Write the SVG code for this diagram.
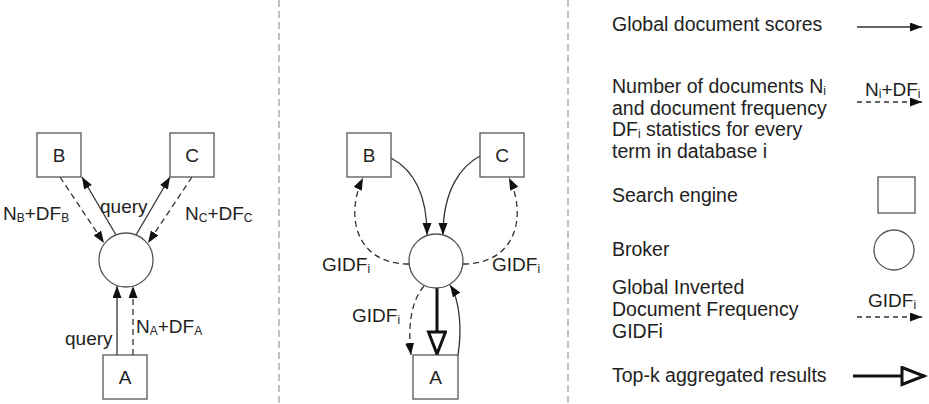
<svg xmlns="http://www.w3.org/2000/svg" width="929" height="404" viewBox="0 0 929 404">
<defs>
<marker id="ah" markerUnits="userSpaceOnUse" markerWidth="14" markerHeight="10" refX="12" refY="4.5" orient="auto">
<path d="M0,0 L12,4.5 L0,9 z" fill="#111"/>
</marker>
<marker id="hollow" markerUnits="userSpaceOnUse" markerWidth="28" markerHeight="22" refX="25" refY="10" orient="auto">
<path d="M2,1.5 L24,10 L2,18.5 z" fill="#fff" stroke="#111" stroke-width="3" stroke-linejoin="miter"/>
</marker>
<style>
.t{font-family:"Liberation Sans",Arial,sans-serif;font-size:19px;fill:#222}
.lg{font-family:"Liberation Sans",Arial,sans-serif;font-size:19.5px;fill:#222}
.s{font-size:12px}
.box{fill:#fff;stroke:#555;stroke-width:1.3}
.brk{fill:#fff;stroke:#555;stroke-width:1.3}
.sol{fill:none;stroke:#333;stroke-width:1.3;marker-end:url(#ah)}
.dsh{fill:none;stroke:#333;stroke-width:1.3;stroke-dasharray:6 4;marker-end:url(#ah)}
.thk{fill:none;stroke:#111;stroke-width:3;marker-end:url(#hollow)}
.div{stroke:#999;stroke-width:1.2;stroke-dasharray:7 4}
</style>
</defs>
<rect width="929" height="404" fill="#fff"/>
<g id="dividers">
<line class="div" x1="279" y1="0" x2="279" y2="404"/>
<line class="div" x1="568" y1="0" x2="568" y2="404"/>
</g>
<g id="connectors">
<path class="dsh" d="M60,177 L104,243"/>
<path class="sol" d="M116,235 L82,177"/>
<path class="sol" d="M136,235 L170,177"/>
<path class="dsh" d="M192,177 L148,243"/>
<path class="sol" d="M117,355 L117,286"/>
<path class="dsh" d="M133,355 L133,286"/>
<path class="sol" d="M391,158 C410,168 427,190 427,235"/>
<path class="sol" d="M480,156 C461,166 443,190 443,235"/>
<path class="dsh" d="M409,264 C355,264 345,215 363,178"/>
<path class="dsh" d="M463,264 C517,264 527,215 509,178"/>
<path class="dsh" d="M424,286 C410,302 408,330 411,355"/>
<path class="thk" d="M437,288 L437,355"/>
<path class="sol" d="M458,355 C462,330 460,300 450,285"/>
</g>
<g id="left-B"><rect class="box" x="37" y="133" width="44" height="44"/><text class="t" x="59" y="162" text-anchor="middle">B</text></g>
<g id="left-C"><rect class="box" x="170" y="133" width="44" height="44"/><text class="t" x="192" y="162" text-anchor="middle">C</text></g>
<g id="left-broker"><circle class="brk" cx="126" cy="260" r="27"/></g>
<g id="left-A"><rect class="box" x="103" y="355" width="44" height="44"/><text class="t" x="125" y="384" text-anchor="middle">A</text></g>
<g id="left-labels">
<text class="t" x="3" y="220">N<tspan class="s" dy="2">B</tspan><tspan dy="-2">+DF</tspan><tspan class="s" dy="2">B</tspan></text>
<text class="t" x="100" y="213">query</text>
<text class="t" x="185" y="220">N<tspan class="s" dy="2">C</tspan><tspan dy="-2">+DF</tspan><tspan class="s" dy="2">C</tspan></text>
<text class="t" x="136" y="333">N<tspan class="s" dy="2">A</tspan><tspan dy="-2">+DF</tspan><tspan class="s" dy="2">A</tspan></text>
<text class="t" x="65" y="345">query</text>
</g>
<g id="mid-B"><rect class="box" x="347" y="133" width="44" height="44"/><text class="t" x="369" y="162" text-anchor="middle">B</text></g>
<g id="mid-C"><rect class="box" x="480" y="133" width="44" height="44"/><text class="t" x="502" y="162" text-anchor="middle">C</text></g>
<g id="mid-broker"><circle class="brk" cx="436" cy="261" r="27"/></g>
<g id="mid-A"><rect class="box" x="413" y="355" width="45" height="44"/><text class="t" x="435.5" y="384" text-anchor="middle">A</text></g>
<g id="mid-labels">
<text class="t" x="322" y="271">GIDF<tspan class="s" dy="2">i</tspan></text>
<text class="t" x="492" y="271">GIDF<tspan class="s" dy="2">i</tspan></text>
<text class="t" x="352" y="322">GIDF<tspan class="s" dy="2">i</tspan></text>
</g>
<g id="legend">
<text class="lg" x="612" y="31">Global document scores</text>
<path class="sol" d="M857,27 L922,27"/>
<text class="lg" x="612" y="93">Number of documents N<tspan class="s" dy="2">i</tspan></text>
<text class="lg" x="612" y="114.5">and document frequency</text>
<text class="lg" x="612" y="136">DF<tspan class="s" dy="2">i</tspan><tspan dy="-2"> statistics for every</tspan></text>
<text class="lg" x="612" y="157.5">term in database i</text>
<text class="t" x="865" y="96">N<tspan class="s" dy="2">i</tspan><tspan dy="-2">+DF</tspan><tspan class="s" dy="2">i</tspan></text>
<path class="dsh" style="stroke-dasharray:5 4" d="M857,102 L922,102"/>
<text class="lg" x="612" y="202">Search engine</text>
<rect class="box" x="878" y="177" width="37" height="36"/>
<text class="lg" x="612" y="256">Broker</text>
<circle class="brk" cx="894" cy="250" r="20"/>
<text class="lg" x="612" y="294">Global Inverted</text>
<text class="lg" x="612" y="316">Document Frequency</text>
<text class="lg" x="612" y="338">GIDFi</text>
<text class="t" x="868" y="307">GIDF<tspan class="s" dy="2">i</tspan></text>
<path class="dsh" style="stroke-dasharray:5 4" d="M857,317 L922,317"/>
<text class="lg" x="612" y="382">Top-k aggregated results</text>
<path class="thk" d="M853,376 L925,376"/>
</g>
</svg>
